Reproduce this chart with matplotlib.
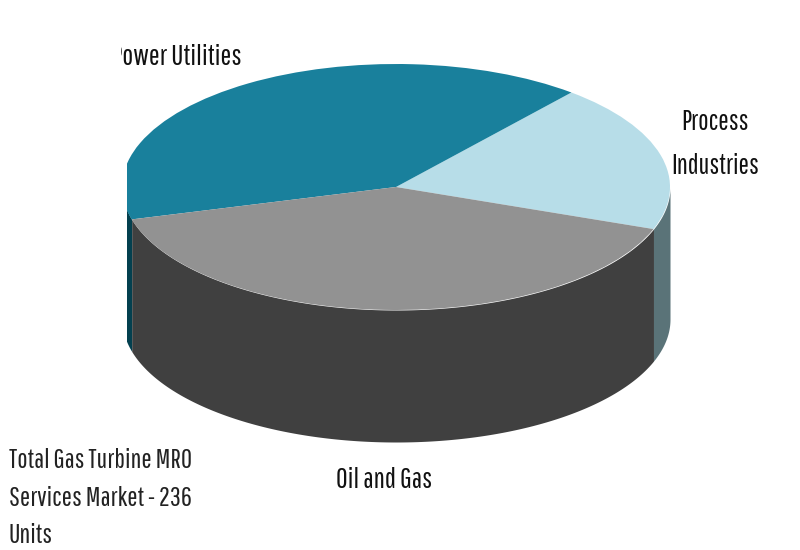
import numpy as np
import matplotlib
matplotlib.use('Agg')
import matplotlib.pyplot as plt
from matplotlib.patches import Rectangle

# Share of units by segment (percent)
segments = ['Process\nIndustries', 'Power Utilities', 'Oil and Gas']
shares = [19.5, 40.3, 40.2]
top_colors = ['#b7dde8', '#19809c', '#929292']
wall_colors = ['#5a7378', '#03404f', '#404040']
note = 'Total Gas Turbine MRO\nServices Market - 236\nUnits'

plt.rcParams['font.family'] = ['Pathway Gothic One', 'Lato', 'DejaVu Sans']

# pixel geometry of the squashed pie
cx, cy, rx, ry, depth = 396, 187, 274, 123, 132
clip_left = 127

fig = plt.figure(figsize=(8, 5.5), dpi=100)
ax = fig.add_axes([0, 0, 1, 1])

wedges, _ = ax.pie(shares, colors=top_colors, startangle=-20, counterclock=True,
                   wedgeprops={'linewidth': 0})
ax.set_aspect('auto')
ax.set_xlim(-cx / rx, (800 - cx) / rx)
ax.set_ylim((cy - 550) / ry, cy / ry)
ax.set_axis_off()

clip = Rectangle(((clip_left - cx) / rx, -5), 10, 10, transform=ax.transData)
d = depth / ry

# side walls, front half only
for w, col in zip(wedges, wall_colors):
    t = np.radians(np.linspace(w.theta1, w.theta2, 300))
    t = t[np.sin(t) <= 0]
    if len(t) == 0:
        continue
    coll = ax.fill_between(np.cos(t), np.sin(t), np.sin(t) - d, color=col, linewidth=0, zorder=0)
    coll.set_clip_path(clip)
for w in wedges:
    w.set_zorder(1)
    w.set_clip_on(True)
    w.set_clip_path(clip)

# labels in pixel coordinates
tx = fig.add_axes([0, 0, 1, 1], facecolor='none')
tx.set_xlim(0, 800)
tx.set_ylim(550, 0)
tx.set_axis_off()

power = tx.text(177, 57, segments[1], ha='center', va='center', fontsize=20.7, color='#111111')
power.set_clip_on(True)
power.set_clip_path(Rectangle((121, 30), 130, 50, transform=tx.transData))
tx.text(715, 144, segments[0], ha='center', va='center', fontsize=20, color='#111111', linespacing=1.85)
tx.text(384, 480, segments[2], ha='center', va='center', fontsize=20.3, color='#111111')
tx.text(9, 498, note, ha='left', va='center', fontsize=19.6, color='#222222', linespacing=1.62)

fig.savefig('out.png', dpi=100)
